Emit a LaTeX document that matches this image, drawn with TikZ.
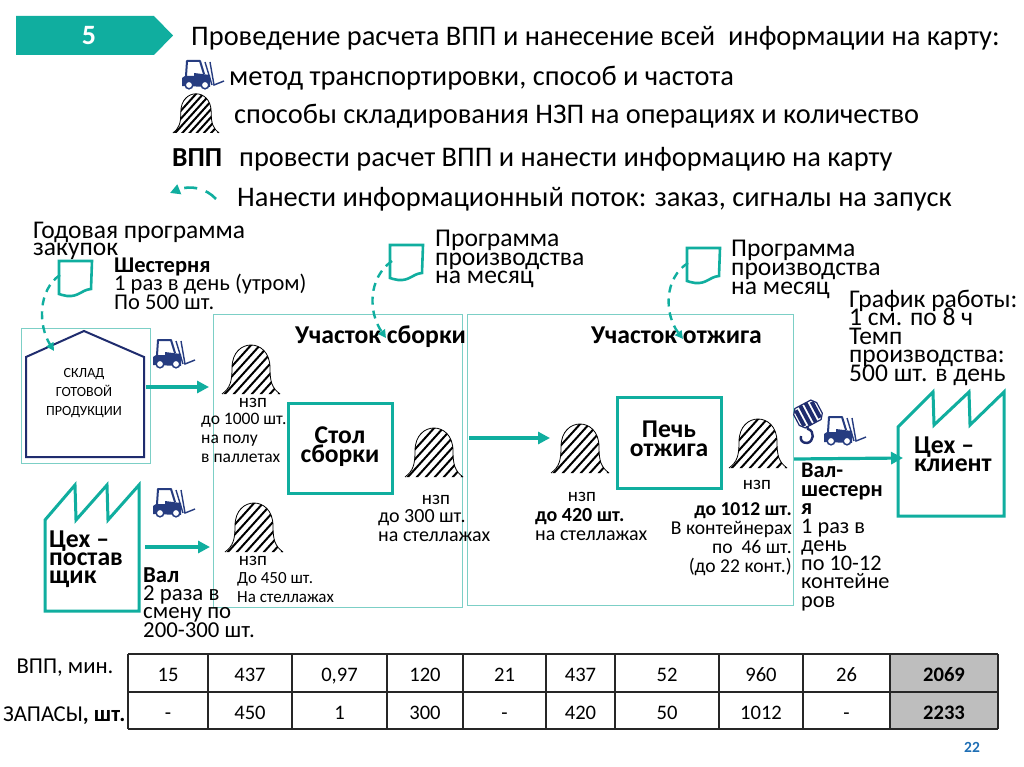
\documentclass[tikz,border=0pt]{standalone}
\usepackage{fontspec}
\setmainfont{Carlito}
\usetikzlibrary{arrows.meta}
\definecolor{teal1}{HTML}{10AE9F}
\definecolor{teal2}{HTML}{7CCFC6}
\definecolor{navy}{HTML}{1F2C6E}
\definecolor{forkc}{HTML}{263C80}
\definecolor{blue22}{HTML}{1F6FB5}
\definecolor{cellgray}{HTML}{BEBEBE}
\newcommand{\fs}[2]{\fontsize{#1}{#2}\selectfont\lineskiplimit=-100pt\lineskip=0pt\relax}
\tikzset{
  lbl/.style={inner sep=0pt,anchor=base west,align=left},
  lblc/.style={inner sep=0pt,anchor=base,align=center},
  lblr/.style={inner sep=0pt,anchor=base east,align=right},
  thinbox/.style={draw=teal2,line width=1pt},
  tealbox/.style={draw=teal1,line width=3pt,line join=miter},
  flow/.style={draw=teal1,line width=3.2pt,-{Triangle[length=12pt,width=12pt]}},
  info/.style={draw=teal1,line width=2.4pt,dash pattern=on 8pt off 6pt,-{Triangle[length=8pt,width=8pt]}},
  bellpile/.pic={
    \begin{scope}
      \clip (-29,0) .. controls (-21,-6) and (-19,-12) .. (-19,-26) .. controls (-19,-42) and (-9,-49) .. (0,-49) .. controls (9,-49) and (19,-42) .. (19,-26) .. controls (19,-12) and (21,-6) .. (29,0) -- cycle;
      \foreach \i in {-90,-81,...,30}
        \draw[black,line width=2pt] (\i,1) -- (\i+56,-61);
    \end{scope}
    \draw[black,line width=.8pt] (-29,0) .. controls (-21,-6) and (-19,-12) .. (-19,-26) .. controls (-19,-42) and (-9,-49) .. (0,-49) .. controls (9,-49) and (19,-42) .. (19,-26) .. controls (19,-12) and (21,-6) .. (29,0);
  },
  forklift/.pic={
    \draw[forkc,line width=2pt,line join=round] (4,16) -- (5,1) -- (18,1) -- (22,14);
    \fill[forkc] (0,18) -- (0,26) -- (28,27) -- (28,15) -- (12,13) -- (12,16) -- (3,16) -- cycle;
    \draw[forkc,fill=white,line width=1.5pt] (7,25) circle (3.8);
    \draw[forkc,fill=white,line width=1.5pt] (23,25) circle (3.8);
    \draw[forkc,line width=1.4pt] (23,2) -- (30,25);
    \draw[forkc,line width=1.4pt] (28,2) -- (32,25) -- (42,21);
  },
  crhook/.pic={
    \begin{scope}[rotate around={28:(15,10)}]
      \draw[navy,fill=white,line width=1.2pt] (2,4) -- (6,-1) -- (24,-1) -- (28,4) -- (28,16) -- (24,21) -- (6,21) -- (2,16) -- cycle;
      \fill[navy] (4,1) rectangle (8,19);
      \fill[navy] (10,-1) rectangle (14,21);
      \fill[navy] (16,-1) rectangle (20,21);
      \fill[navy] (22,1) rectangle (26,19);
    \end{scope}
    \draw[navy,line width=2.4pt] (14,22) -- (15,25) .. controls (22,27) and (21,38) .. (14,39) .. controls (9,39) and (7,36) .. (8,32);
  },
  paperdoc/.pic={
    \draw[teal1,line width=2.6pt,line join=miter] (0,0) -- (33,0) -- (32,28) .. controls (22,29) and (20,36) .. (8,35) .. controls (4,34) and (2,34) .. (0,33) -- cycle;
  }
}
\begin{document}
\begin{tikzpicture}[x=1pt,y=-1pt]
\useasboundingbox (0,0) rectangle (1024,767);
\fill[white] (0,0) rectangle (1024,767);

% header
\fill[teal1] (16,16) -- (154,16) -- (173,35.5) -- (154,55) -- (16,55) -- cycle;
\node[lblc,text=white,font=\fs{28}{28}\bfseries] (num) at (89,45) {5};
\node[lbl,font=\fs{28.4}{28}] (title) at (191,46) {Проведение расчета ВПП и нанесение всей\ \ информации на карту:};
\pic (lf) at (182,60) {forklift};
\node[lbl,font=\fs{28.4}{28}] (l1) at (229,86) {метод транспортировки, способ и частота};
\pic[scale=.8] (lb) at (196,133) {bellpile};
\node[lbl,font=\fs{28.4}{28}] (l2) at (234,124) {способы складирования НЗП на операциях и количество};
\node[lbl,font=\fs{27.5}{26}\bfseries] (l3a) at (172,167) {ВПП};
\node[lbl,font=\fs{28.4}{28}] (l3) at (239,167) {провести расчет ВПП и нанести информацию на карту};
\coordinate (lds) at (216,199);
\coordinate (lde) at (170,193);
\draw[info,line width=2.6pt,dash pattern=on 13pt off 9pt,-{Triangle[length=10pt,width=10pt]}] (lds) .. controls (206,188) and (190,185) .. (lde);
\node[lbl,font=\fs{28.4}{28}] (l4) at (237,207) {Нанести информационный поток: заказ, сигналы на запуск};

% thin frames
\draw[thinbox] (21,328) rectangle (150,463);
\draw[thinbox] (213,314) rectangle (462,607);
\draw[thinbox] (467,314) rectangle (793,605);

% warehouse
\draw[navy,line width=2pt,line join=miter] (26,357) -- (84,331) -- (144,357) -- (144,457) -- (26,457) -- cycle;
\node[lblc,font=\fs{14}{19}] (sk1) at (84,415) {СКЛАД\\ГОТОВОЙ\\ПРОДУКЦИИ};

% factories
\draw[tealbox] (45,520) -- (75,485) -- (76,520) -- (107,485) -- (108,520) -- (139,485) -- (139,611) -- (45,611) -- cycle;
\node[lbl,font=\fs{25.7}{18}\bfseries] (f1) at (49,583) {Цех –\\постав\\щик};
\draw[tealbox] (898,427) -- (933,392) -- (934,425) -- (969,392) -- (970,425) -- (1004,392) -- (1004,516) -- (898,516) -- cycle;
\node[lbl,font=\fs{25.7}{18}\bfseries] (f2) at (914,471) {Цех –\\клиент};

% process boxes
\draw[tealbox] (288,403) rectangle (392,493);
\node[lblc,font=\fs{25.6}{19}\bfseries] (st) at (340,462) {Стол\\сборки};
\draw[tealbox] (617,397) rectangle (721,488);
\node[lblc,font=\fs{25.6}{19}\bfseries] (pe) at (669,456) {Печь\\отжига};

% section titles
\node[lbl,font=\fs{25.7}{23}\bfseries] (us1) at (295,343) {Участок сборки};
\node[lbl,font=\fs{25.7}{23}\bfseries] (us2) at (591,343) {Участок отжига};

% piles
\pic (b1) at (251,394) {bellpile};
\pic (b2) at (254,552) {bellpile};
\pic (b3) at (434,477) {bellpile};
\pic (b4) at (580,473) {bellpile};
\pic (b5) at (758,468) {bellpile};

% forklifts and hook
\pic (f2l) at (153,339) {forklift};
\pic (f3l) at (153,488) {forklift};
\pic (f4l) at (824,416) {forklift};
\pic (hk) at (793,404) {crhook};

% documents
\pic (d1) at (59,261) {paperdoc};
\pic (d2) at (390,245) {paperdoc};
\pic (d3) at (687,248) {paperdoc};

% flows
\coordinate (a1s) at (146,387); \coordinate (a1e) at (209,387);
\coordinate (a2s) at (145,547); \coordinate (a2e) at (210,547);
\coordinate (a3s) at (469,438); \coordinate (a3e) at (550,438);
\coordinate (a4s) at (794,459); \coordinate (a4e) at (903,458);
\draw[flow] (a1s) -- (a1e);
\draw[flow] (a2s) -- (a2e);
\draw[flow] (a3s) -- (a3e);
\draw[flow] (a4s) -- (a4e);

% information flows
\coordinate (i1s) at (60,275); \coordinate (i1e) at (54,351);
\coordinate (i2s) at (392,261); \coordinate (i2e) at (386,338);
\coordinate (i3s) at (688,263); \coordinate (i3e) at (683,339);
\draw[info] (i1s) .. controls (38,290) and (38,325) .. (i1e);
\draw[info] (i2s) .. controls (368,278) and (368,312) .. (i2e);
\draw[info] (i3s) .. controls (664,278) and (664,314) .. (i3e);

% labels
\node[lbl,font=\fs{25.5}{17}] (g1) at (33,255) {Годовая программа\\закупок};
\node[lbl,font=\fs{22.5}{18.5}] (g2) at (114,309) {\textbf{Шестерня}\\1 раз в день (утром)\\По 500 шт.};
\node[lbl,font=\fs{25.6}{18}] (g3) at (435,283) {Программа\\производства\\на месяц};
\node[lbl,font=\fs{25.6}{19}] (g4) at (731,294) {Программа\\производства\\на месяц};
\node[lbl,font=\fs{25.5}{18.5}] (g5) at (849,381) {График работы:\\1 см. по 8 ч\\Темп\\производства:\\500 шт. в день};

\node[lblc,font=\fs{19}{16}] (n1) at (253,407) {нзп};
\node[lbl,font=\fs{17.5}{19}] (n1t) at (201,462) {до 1000 шт.\\на полу\\в паллетах};
\node[lblc,font=\fs{19}{16}] (n2) at (253,565) {нзп};
\node[lbl,font=\fs{17}{18.5}] (n2t) at (237,602) {До 450 шт.\\На стеллажах};
\node[lblc,font=\fs{19}{16}] (n3) at (436,504) {нзп};
\node[lbl,font=\fs{20}{19}] (n3t) at (378,541) {до 300 шт.\\на стеллажах};
\node[lblc,font=\fs{19}{16}] (n4) at (582,501) {нзп};
\node[lbl,font=\fs{20}{19}] (n4t) at (535,540) {\textbf{до 420 шт.}\\на стеллажах};
\node[lblc,font=\fs{19}{16}] (n5) at (757,489) {нзп};
\node[lblr,font=\fs{19.6}{19}] (n5t) at (792,572) {\textbf{до 1012 шт.}\\В контейнерах\\по\ \ 46 шт.\\(до 22 конт.)};

\node[lbl,font=\fs{22.8}{18.3}] (v1) at (143,637) {\textbf{Вал}\\2 раза в\\смену по\\200-300 шт.};
\node[lbl,font=\fs{22.3}{18.5}] (v2) at (801,607) {\textbf{Вал-}\\\textbf{шестерн}\\\textbf{я}\\1 раз в\\день\\по 10-12\\контейне\\ров};

% table
\fill[cellgray] (890,654) rectangle (998,729);
\foreach \x in {128,208,292,387,463,546,615,719,803,890,998}
  \draw[black!85,line width=1.6pt] (\x,654) -- (\x,729);
\foreach \y in {654,692,729}
  \draw[black!85,line width=1.6pt] (128,\y) -- (998,\y);
\node[lblc,font=\fs{22.7}{18}] (h1) at (65,673) {ВПП, мин.};
\node[lbl,font=\fs{22.7}{18}] (h2) at (3,721) {ЗАПАСЫ\textbf{, шт.}};
\foreach \cx/\a/\b [count=\k] in {168/15/-,250/437/450,339.5/{0,97}/1,425/120/300,504.5/21/-,580.5/437/420,667/52/50,761/960/1012,846.5/26/-}{
  \node[lblc,font=\fs{20.6}{20}] (ta\k) at (\cx,681) {\a};
  \node[lblc,font=\fs{20.6}{20}] (tb\k) at (\cx,719) {\b};
}
\node[lblc,font=\fs{20.6}{20}\bfseries] (ta10) at (944,681) {2069};
\node[lblc,font=\fs{20.6}{20}\bfseries] (tb10) at (944,719) {2233};
\node[lblc,text=blue22,font=\fs{15.5}{15}\bfseries] (pg) at (972,752) {22};
\end{tikzpicture}
\end{document}
